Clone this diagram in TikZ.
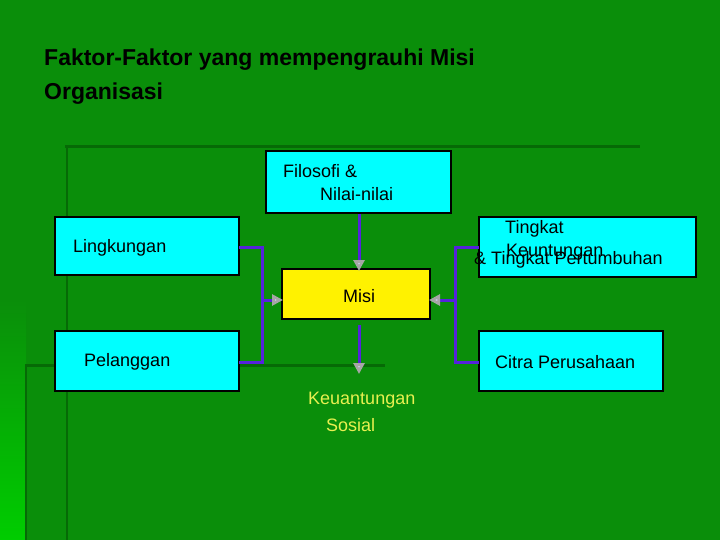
\documentclass[tikz,border=0pt]{standalone}
\usepackage{fontspec}
\setmainfont{Liberation Sans}
\usetikzlibrary{arrows.meta}
\begin{document}
\begin{tikzpicture}[x=1pt,y=-1pt,
  box/.style={draw=black,line width=1.2pt,fill=boxc},
  lbl/.style={anchor=west,inner sep=0pt,font=\fontsize{18}{18}\selectfont},
  conn/.style={draw=linec,line width=3pt},
  arr/.style={draw=linec,line width=3pt,-{Triangle[width=11pt,length=11pt,fill=arrc,color=gray!70]}}]
\definecolor{bg}{HTML}{0A8E0A}
\definecolor{boxc}{HTML}{00FFFF}
\definecolor{linec}{HTML}{5522DD}
\definecolor{arrc}{HTML}{CCC8F0}
\definecolor{sos}{HTML}{E8F050}
\definecolor{dk}{HTML}{066A06}
\useasboundingbox (0,0) rectangle (720,540);
\fill[bg] (0,0) rectangle (720,540);
\shade[top color=bg,bottom color={rgb,255:red,0;green,205;blue,0}] (0,300) rectangle (26,540);
\draw[dk,line width=3pt] (65,147) -- (640,147);
\draw[dk,line width=2pt] (67,147) -- (67,540);
\draw[dk,line width=3pt] (25,365) -- (385,365);
\draw[dk,line width=2pt] (26,365) -- (26,540);
\node[anchor=west,inner sep=0pt,font=\bfseries\fontsize{23}{23}\selectfont] (t1) at (44,60) {Faktor-Faktor yang mempengrauhi Misi};
\node[anchor=west,inner sep=0pt,font=\bfseries\fontsize{23}{23}\selectfont] (t2) at (44,94) {Organisasi};
\path[box] (266,151) rectangle (451,213);
\path[box] (55,217) rectangle (239,275);
\path[box] (55,331) rectangle (239,391);
\path[box] (479,217) rectangle (696,277);
\path[box] (479,331) rectangle (663,391);
\path[draw=black,line width=1.2pt,fill=yellow] (282,269) rectangle (430,319);
\coordinate (ftop) at (359,214);
\coordinate (mtop) at (359,271);
\coordinate (mbot1) at (359,325);
\coordinate (mbot2) at (359,374);
\coordinate (mleft) at (283,300);
\coordinate (mright) at (429,300);
\coordinate (lb) at (262,300);
\coordinate (rb) at (455,300);
\draw[conn] (239,247) -- (262,247) -- (262,362) -- (239,362);
\draw[conn] (479,247) -- (455,247) -- (455,362) -- (479,362);
\draw[arr] (ftop) -- (mtop);
\draw[arr] (mbot1) -- (mbot2);
\draw[arr] (lb) -- (mleft);
\draw[arr] (rb) -- (mright);
\node[lbl] (f1) at (283,171) {Filosofi \&};
\node[lbl] (f2) at (320,194) {Nilai-nilai};
\node[lbl] (l) at (73,248) {Lingkungan};
\node[lbl] (p) at (84,362) {Pelanggan};
\node[lbl] (m) at (343,296) {Misi};
\node[lbl] (c) at (495,362) {Citra Perusahaan};
\node[lbl] (k1) at (505,229) {Tingkat};
\node[lbl] (k2) at (506,252) {Keuntungan};
\node[lbl] (k3) at (474,260) {\& Tingkat Pertumbuhan};
\node[lbl,text=sos] (s1) at (308,400) {Keuantungan};
\node[lbl,text=sos] (s2) at (326,425) {Sosial};
\end{tikzpicture}
\end{document}
